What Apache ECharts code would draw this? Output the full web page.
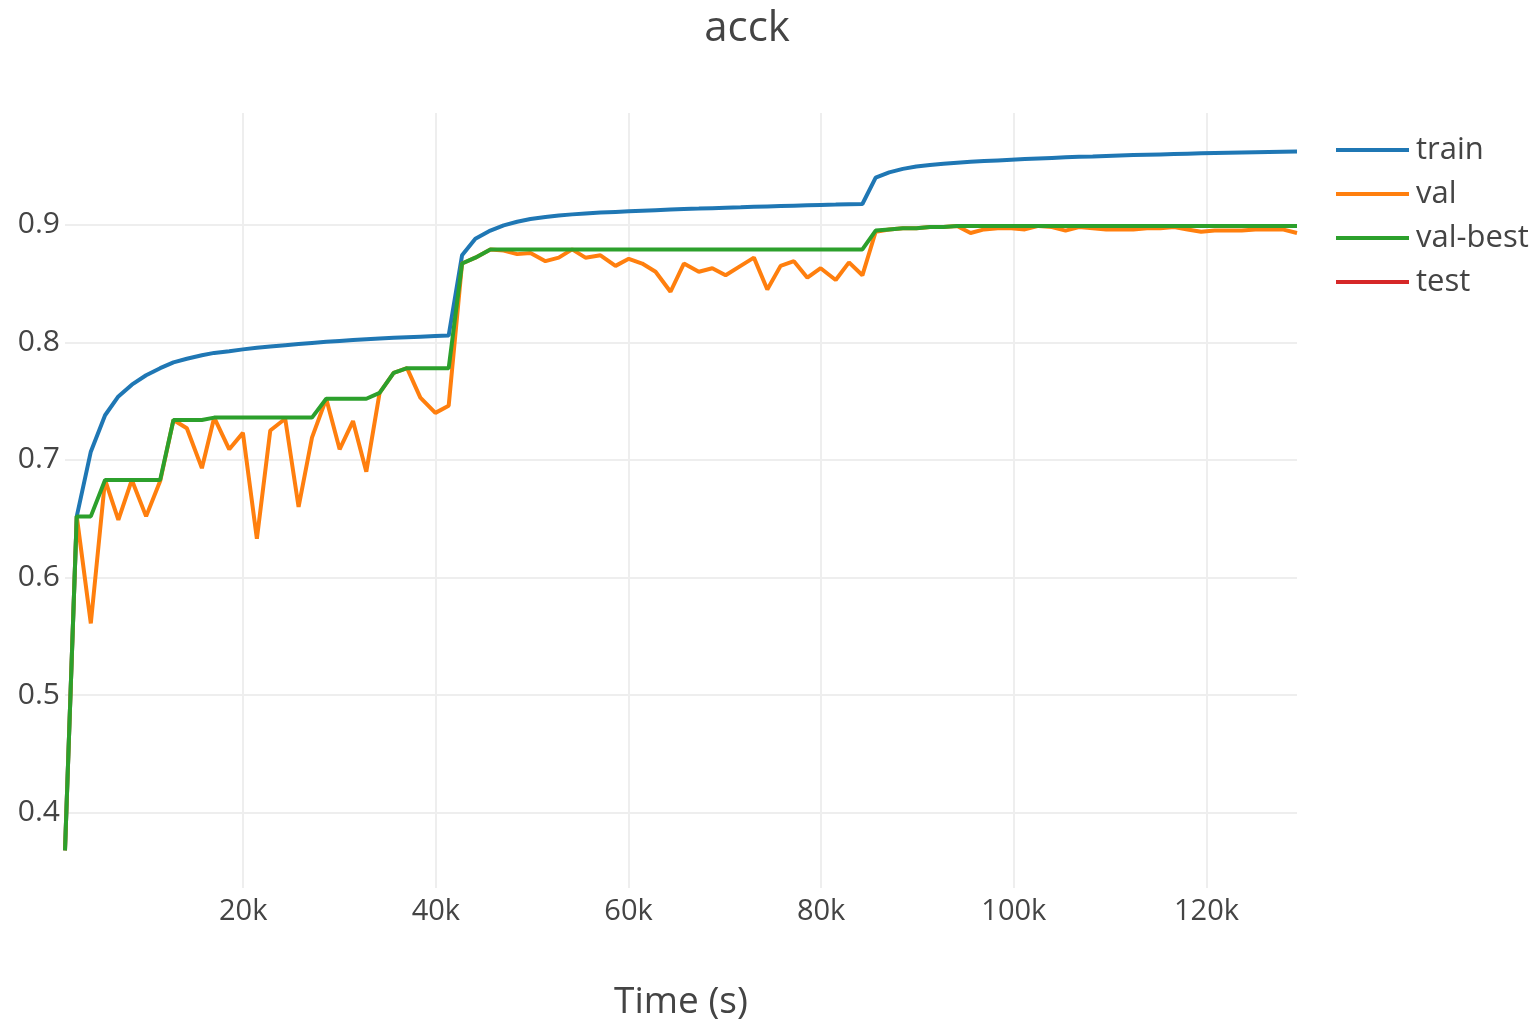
<!DOCTYPE html>
<html>
<head>
<meta charset="utf-8">
<script src="https://cdn.jsdelivr.net/npm/echarts@6/dist/echarts.min.js"></script>
<style>
html,body{margin:0;padding:0;background:#fff;}
#chart{width:1535px;height:1020px;}
</style>
</head>
<body>
<div id="chart"></div>
<script>
var times = [1500,2720,4180,5660,7040,8440,9920,11380,12760,14150,15710,16990,18550,19970,21420,22810,24360,25750,27140,28620,30010,31400,32780,34160,35620,37010,38390,39950,41330,
42720,44100,45660,47040,48440,49820,51380,52760,54150,55530,57090,58650,60030,61420,62810,64360,65750,67300,68700,70080,71640,73020,74410,75790,77170,78570,79950,81510,82890,84280,
85660,87060,88480,89880,91290,92700,94110,95510,96920,98330,99740,101140,102560,103960,105370,106770,108190,109590,111000,112410,113820,115220,116630,118040,119450,120850,122260,123670,125080,126480,127900,129400];

var train = [0.368,0.652,0.707,0.738,0.754,0.764,0.772,0.778,0.783,0.786,0.789,0.791,
0.7925,0.7940,0.7953,0.7965,0.7976,0.7986,0.7995,0.8004,0.8012,0.8019,0.8026,0.8032,0.8038,0.8043,0.8048,0.8053,0.8057,
0.874,0.888,0.895,0.8995,0.9025,0.9048,0.9065,0.9078,0.9088,0.9096,0.9103,0.9109,0.9114,0.9119,0.9124,0.9129,0.9133,0.9137,0.9141,0.9145,0.9149,0.9153,0.9156,0.9159,0.9162,0.9165,0.9168,0.9171,0.9174,0.9176,
0.940,0.9445,0.9475,0.9495,0.9508,0.9518,0.9527,0.9535,0.9541,0.9547,0.9553,0.9558,0.9563,0.9568,0.9573,0.9577,0.9581,0.9585,0.9589,0.9592,0.9595,0.9598,0.9601,0.9604,0.9607,0.9610,0.9612,0.9614,0.9616,0.9618,0.9620,0.9622];

var val = [0.368,0.652,0.561,0.683,0.649,0.683,0.652,0.682,0.734,0.727,0.693,0.736,0.709,0.723,0.633,0.725,0.735,0.660,0.719,0.752,0.709,0.733,0.690,0.757,0.774,0.778,0.753,0.740,0.746,
0.867,0.872,0.879,0.878,0.875,0.876,0.869,0.872,0.879,0.872,0.874,0.865,0.871,0.867,0.860,0.843,0.867,0.860,0.863,0.857,0.865,0.872,0.845,0.865,0.869,0.855,0.863,0.853,0.868,0.857,
0.894,0.896,0.897,0.897,0.898,0.898,0.899,0.893,0.896,0.897,0.897,0.896,0.899,0.898,0.895,0.898,0.897,0.896,0.896,0.896,0.897,0.897,0.898,0.896,0.894,0.895,0.895,0.895,0.896,0.896,0.896,0.893];

var valBest = [0.368,0.652,0.652,0.683,0.683,0.683,0.683,0.683,0.734,0.734,0.734,0.736,0.736,0.736,0.736,0.736,0.736,0.736,0.736,0.752,0.752,0.752,0.752,0.757,0.774,0.778,0.778,0.778,0.778,
0.867,0.872,0.879,0.879,0.879,0.879,0.879,0.879,0.879,0.879,0.879,0.879,0.879,0.879,0.879,0.879,0.879,0.879,0.879,0.879,0.879,0.879,0.879,0.879,0.879,0.879,0.879,0.879,0.879,0.879,
0.895,0.896,0.897,0.897,0.898,0.898,0.899,0.899,0.899,0.899,0.899,0.899,0.899,0.899,0.899,0.899,0.899,0.899,0.899,0.899,0.899,0.899,0.899,0.899,0.899,0.899,0.899,0.899,0.899,0.899,0.899,0.899];

var test = [];

var seriesNames = ['train','val','val-best','test'];
var seriesColors = ['#1f77b4','#ff7f0e','#2ca02c','#d62728'];
var seriesValues = [train, val, valBest, test];

function pairs(vals){
  var out = [];
  for (var i = 0; i < vals.length; i++) out.push([times[i], vals[i]]);
  return out;
}

var FONT = '"Open Sans", "DejaVu Sans", sans-serif';
var chart = echarts.init(document.getElementById('chart'), null, {renderer:'canvas'});
var option = {
  animation: false,
  backgroundColor: '#fff',
  title: {
    text: 'acck',
    left: 742, top: 3,
    textAlign: 'center',
    textStyle: {fontFamily: FONT, fontSize: 42, fontWeight: 'normal', color: '#444'}
  },
  legend: {
    orient: 'vertical',
    left: 1331, top: 128,
    itemWidth: 73, itemHeight: 4, itemGap: 10,
    icon: 'rect',
    data: seriesNames,
    textStyle: {fontFamily: FONT, fontSize: 31, color: '#444', lineHeight: 34, padding: [0,0,0,2]}
  },
  grid: {left: 65, right: 238, top: 113, bottom: 132, containLabel: false, outerBoundsMode: 'none'},
  xAxis: {
    type: 'value',
    min: 1500, max: 129400,
    minInterval: 20000, maxInterval: 20000,
    name: 'Time (s)',
    nameLocation: 'middle',
    nameGap: 96,
    nameTextStyle: {fontFamily: FONT, fontSize: 37, color: '#444'},
    axisLine: {show: false},
    axisTick: {show: false},
    axisLabel: {
      fontFamily: FONT, fontSize: 29, color: '#444', margin: 9,
      showMinLabel: false, showMaxLabel: false,
      formatter: function(v){ return (v/1000) + 'k'; }
    },
    splitLine: {show: true, showMinLine: false, showMaxLine: false, lineStyle: {color: '#eeeeee', width: 2}}
  },
  yAxis: {
    type: 'value',
    min: 0.336, max: 0.995,
    minInterval: 0.1, maxInterval: 0.1,
    axisLine: {show: false},
    axisTick: {show: false},
    axisLabel: {
      fontFamily: FONT, fontSize: 30, color: '#444', margin: 5,
      showMinLabel: false, showMaxLabel: false,
      formatter: function(v){ return v.toFixed(1); }
    },
    splitLine: {show: true, showMinLine: false, showMaxLine: false, lineStyle: {color: '#eeeeee', width: 2}}
  },
  series: seriesNames.map(function(n, i){
    return {
      name: n,
      type: 'line',
      data: pairs(seriesValues[i]),
      symbol: 'none',
      showSymbol: false,
      color: seriesColors[i],
      lineStyle: {width: 4, color: seriesColors[i]},
      itemStyle: {color: seriesColors[i]}
    };
  })
};
chart.setOption(option);
</script>
</body>
</html>
